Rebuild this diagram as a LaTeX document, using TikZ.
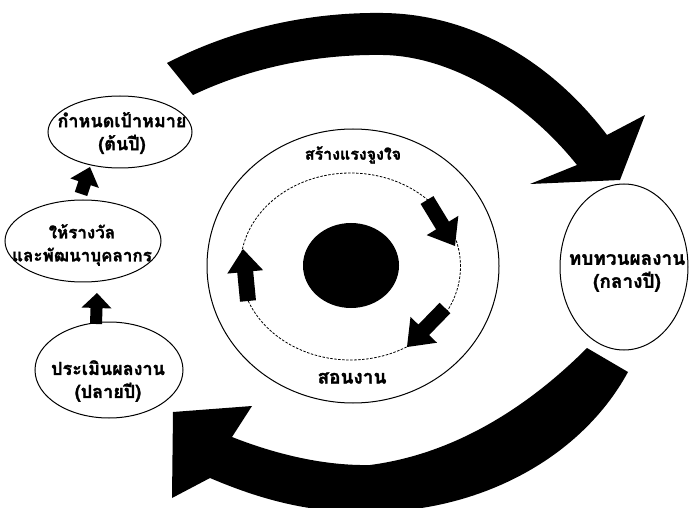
\documentclass[tikz,border=0pt]{standalone}
\usepackage{fontspec}
\newfontfamily\thai[Script=Thai,FakeBold=1.5]{Loma}
\usetikzlibrary{calc,shapes.geometric}
% fat block arrow: tail, tip, shaft half width, head half width, head length
\newcommand{\fatarr}[5]{\coordinate (ahead) at ($(#2)!#5!(#1)$);
	\fill ($(#1)!#3!90:(#2)$) -- ($(ahead)!#3!90:(#2)$) -- ($(ahead)!#4!90:(#2)$)
	-- (#2) -- ($(ahead)!#4!-90:(#2)$) -- ($(ahead)!#3!-90:(#2)$) -- ($(#1)!#3!-90:(#2)$) -- cycle}
\tikzset{
	oval/.style={draw, line width=1pt, ellipse, inner sep=0pt},
	lab/.style={font=\thai\bfseries\fontsize{18}{23}\selectfont, align=center, inner sep=0pt},
	small/.style={font=\thai\bfseries\fontsize{16}{20}\selectfont, inner sep=0pt},
}

\begin{document}
\begin{tikzpicture}[x=1pt,y=-1pt]
	\useasboundingbox (0,0) rectangle (689,508);
	% ovals round the cycle
	\node[oval, minimum width=144pt, minimum height=72pt] (goal) at (120,132) {};
	\node[oval, minimum width=156pt, minimum height=82pt] (reward) at (83,241) {};
	\node[oval, minimum width=148pt, minimum height=96pt] (assess) at (109,370) {};
	\node[oval, minimum width=128pt, minimum height=166pt] (review) at (624,267) {};
	\node[lab] (goaltxt) at (122,133) {กำหนดเป้าหมาย\\(ต้นปี)};
	\node[lab, font=\thai\bfseries\fontsize{17}{23}\selectfont] (rewardtxt) at (82,245) {ให้รางวัล\\และพัฒนาบุคลากร};
	\node[lab] (assesstxt) at (108,381) {ประเมินผลงาน\\(ปลายปี)};
	\node[lab, font=\thai\bfseries\fontsize{19}{23}\selectfont] (reviewtxt) at (627,273) {ทบทวนผลงาน\\(กลางปี)};
	% centre
	\node[oval, minimum width=292pt, minimum height=274pt] (outer) at (353,266) {};
	\node[draw, ellipse, line width=0.8pt, dash pattern=on 2.5pt off 1.5pt,
		minimum width=220pt, minimum height=187pt, inner sep=0pt] (loop) at (350.5,266.5) {};
	\node[ellipse, fill, minimum width=96pt, minimum height=85pt, inner sep=0pt] (core) at (351,265.5) {};
	\node[small] (motiv) at (353,155) {สร้างแรงจูงใจ};
	\node[small, font=\thai\bfseries\fontsize{19}{20}\selectfont] (coach) at (352,378) {สอนงาน};
	% arrows on the dashed loop
	\coordinate (c1s) at (427,200); \coordinate (c1e) at (455,246);
	\coordinate (c2s) at (445,308); \coordinate (c2e) at (407,347);
	\coordinate (c3s) at (248,301); \coordinate (c3e) at (243,249);
	\fatarr{c1s}{c1e}{7.5pt}{18.5pt}{24pt};
	\fatarr{c2s}{c2e}{7.5pt}{18.5pt}{24pt};
	\fatarr{c3s}{c3e}{8pt}{18pt}{23pt};
	% arrows up the left side
	\coordinate (l1s) at (81,194); \coordinate (l1e) at (90,167);
	\coordinate (l2s) at (96,324); \coordinate (l2e) at (97,293);
	\fatarr{l1s}{l1e}{6.5pt}{15pt}{17pt};
	\fatarr{l2s}{l2e}{6pt}{15pt}{15pt};
	% big arrow over the top
	\fill (167,63) .. controls (235,28) and (310,12) .. (383,13)
		.. controls (470,14) and (550,60) .. (607,135)
		-- (645,115) -- (620,180) -- (530,184) -- (577,165)
		.. controls (525,100) and (450,56) .. (383,55)
		.. controls (315,54) and (250,68) .. (193,95) -- cycle;
	% big arrow under the bottom
	\fill (628,372) .. controls (580,460) and (475,515) .. (360,512)
		.. controls (300,512) and (250,495) .. (210,478)
		-- (172,498) -- (173,412) -- (252,406) -- (232,437)
		.. controls (270,452) and (320,466) .. (370,465)
		.. controls (470,452) and (545,390) .. (587,348) -- cycle;
\end{tikzpicture}
\end{document}
